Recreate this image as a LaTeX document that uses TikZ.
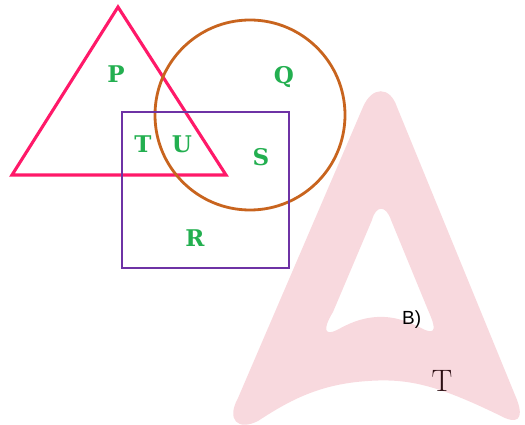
\documentclass[tikz,border=0pt]{standalone}
\usepackage{fontspec}
\newfontfamily\arialfont{Liberation Sans}
\newfontfamily\lblfont{DejaVu Serif}
\definecolor{wmpink}{RGB}{248,217,222}
\definecolor{tricol}{RGB}{255,25,105}
\definecolor{circol}{RGB}{200,100,30}
\definecolor{reccol}{RGB}{110,50,165}
\definecolor{lblgreen}{RGB}{35,175,80}
\definecolor{darkt}{RGB}{45,15,20}
\begin{document}
\begin{tikzpicture}[x=1pt,y=-1pt,
  lbl/.style={text=lblgreen,font=\lblfont\fontsize{23}{27}\selectfont\bfseries,anchor=base,inner sep=0pt}]
\useasboundingbox (0,0) rectangle (525,425);
% watermark A
\fill[wmpink,even odd rule]
  (363,107) .. controls (372,86) and (390,86) .. (397,107)
  -- (515,395) .. controls (523,413) and (522,425) .. (505,418)
  .. controls (440,386) and (410,378) .. (368,381)
  .. controls (320,384) and (290,400) .. (258,421)
  .. controls (238,431) and (226,420) .. (238,398) -- cycle
  (372,220) .. controls (376,205) and (386,205) .. (391,220)
  -- (428,310) .. controls (436,328) and (436,334) .. (425,330)
  .. controls (410,322) and (395,316) .. (377,317)
  .. controls (360,318) and (348,324) .. (337,330)
  .. controls (325,336) and (322,330) .. (333,312) -- cycle;
% shapes
\draw[line width=3.1pt,tricol,line join=miter] (118,7) -- (226,175) -- (12,175) -- cycle;
\draw[line width=2.8pt,circol] (250,115) circle[radius=95];
\draw[line width=2.6pt,reccol] (122,112) rectangle (289,268);
% labels
\node[lbl] (p) at (116,83) {P};
\node[lbl] (q) at (284,84) {Q};
\node[lbl] (t) at (143,153) {T};
\node[lbl] (u) at (182,153) {U};
\node[lbl] (s) at (261,165) {S};
\node[lbl] (r) at (195,246) {R};
\node[anchor=base west,inner sep=0pt,font=\arialfont\fontsize{19}{22}\selectfont] (b) at (402,324) {B)};
\node[anchor=base,inner sep=0pt,text=darkt,font=\fontsize{31}{35}\selectfont] (tt) at (442,391) {T};
\end{tikzpicture}
\end{document}
